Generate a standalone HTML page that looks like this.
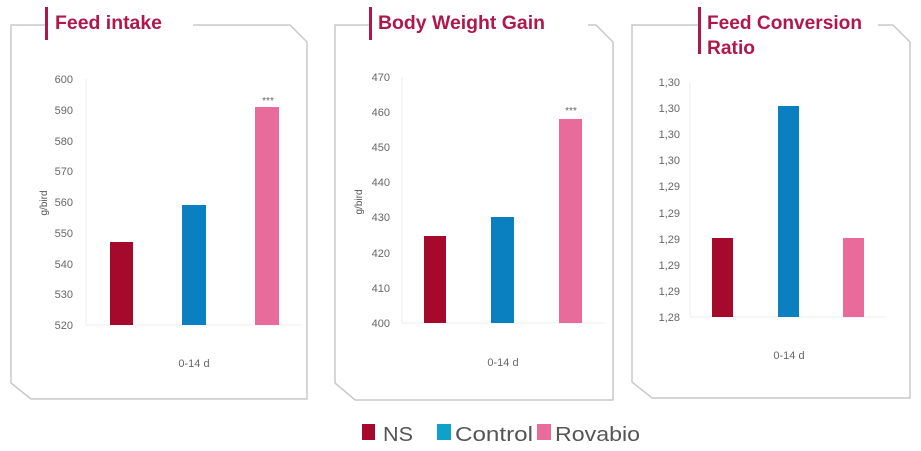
<!DOCTYPE html>
<html><head><meta charset="utf-8"><style>
html,body{margin:0;padding:0;background:#fff;width:921px;height:451px;overflow:hidden}
svg text{font-family:"Liberation Sans",sans-serif}
</style></head><body>
<svg width="921" height="451" viewBox="0 0 921 451" xmlns="http://www.w3.org/2000/svg">
<g fill="none" stroke="#c8c8c8" stroke-width="1.5">
<polyline points="45,25 11,25 11,383 31,399 307,399 307,42 290,25 193,25"/>
<polyline points="370,25 335,25 335,383 355,400 613,400 613,42 596,25 588,25"/>
<polyline points="699,25 632,25 632,382 652,398 910,398 910,42 893,25 878,25"/>
</g>
<g fill="#b0184a">
<rect x="45" y="7" width="3" height="33"/>
<rect x="369" y="7" width="3" height="33"/>
<rect x="698" y="7" width="3" height="47"/>
</g>
<g fill="#b0184a" font-weight="bold" font-size="19">
<text x="55" y="29" textLength="107" lengthAdjust="spacingAndGlyphs">Feed intake</text>
<text x="378" y="29" textLength="167" lengthAdjust="spacingAndGlyphs">Body Weight Gain</text>
<text x="707" y="29" textLength="155" lengthAdjust="spacingAndGlyphs">Feed Conversion</text>
<text x="707" y="54" textLength="48" lengthAdjust="spacingAndGlyphs">Ratio</text>
</g>
<g stroke="#eee" stroke-width="1">
<line x1="86" y1="325" x2="303" y2="325"/><line x1="86" y1="79" x2="86" y2="325"/>
<line x1="402" y1="323" x2="605" y2="323"/><line x1="402" y1="77" x2="402" y2="323"/>
<line x1="690" y1="317" x2="887" y2="317"/><line x1="690" y1="82" x2="690" y2="317"/>
</g>
<g font-size="11" fill="#666" text-anchor="end">
<text x="73" y="83">600</text><text x="73" y="114">590</text><text x="73" y="145">580</text><text x="73" y="175">570</text><text x="73" y="206">560</text><text x="73" y="237">550</text><text x="73" y="268">540</text><text x="73" y="298">530</text><text x="73" y="329">520</text>
<text x="390" y="81">470</text><text x="390" y="116">460</text><text x="390" y="151">450</text><text x="390" y="186">440</text><text x="390" y="221">430</text><text x="390" y="257">420</text><text x="390" y="292">410</text><text x="390" y="327">400</text>
<text x="680" y="86">1,30</text><text x="680" y="112">1,30</text><text x="680" y="138">1,30</text><text x="680" y="164">1,30</text><text x="680" y="190">1,29</text><text x="680" y="217">1,29</text><text x="680" y="243">1,29</text><text x="680" y="269">1,29</text><text x="680" y="295">1,29</text><text x="680" y="321">1,28</text>
</g>
<g font-size="10" fill="#555">
<text transform="translate(47,203) rotate(-90)" text-anchor="middle">g/bird</text>
<text transform="translate(362,202) rotate(-90)" text-anchor="middle">g/bird</text>
</g>
<g font-size="11" fill="#666" text-anchor="middle">
<text x="194" y="367">0-14 d</text><text x="503" y="366">0-14 d</text><text x="789" y="359">0-14 d</text>
<text x="268" y="104" font-size="10">***</text><text x="571" y="114" font-size="10">***</text>
</g>
<rect x="110" y="242" width="23" height="83" fill="#a50a2d"/>
<rect x="182" y="205" width="24" height="120" fill="#0a80c0"/>
<rect x="255" y="107" width="24" height="218" fill="#e96b9c"/>
<rect x="424" y="236" width="22" height="87" fill="#a50a2d"/>
<rect x="491" y="217" width="23" height="106" fill="#0a80c0"/>
<rect x="559" y="119" width="23" height="204" fill="#e96b9c"/>
<rect x="712" y="238" width="21" height="79" fill="#a50a2d"/>
<rect x="778" y="106" width="21" height="211" fill="#0a80c0"/>
<rect x="843" y="238" width="21" height="79" fill="#e96b9c"/>
<rect x="362" y="424" width="13" height="16" fill="#a50a2d"/>
<rect x="437" y="424" width="14" height="16" fill="#0fa0cc"/>
<rect x="537" y="424" width="14" height="16" fill="#e96b9c"/>
<g font-size="20" fill="#555">
<text x="383" y="441" textLength="30" lengthAdjust="spacingAndGlyphs">NS</text>
<text x="455" y="441" textLength="78" lengthAdjust="spacingAndGlyphs">Control</text>
<text x="555" y="441" textLength="85" lengthAdjust="spacingAndGlyphs">Rovabio</text>
</g>
</svg>
</body></html>
